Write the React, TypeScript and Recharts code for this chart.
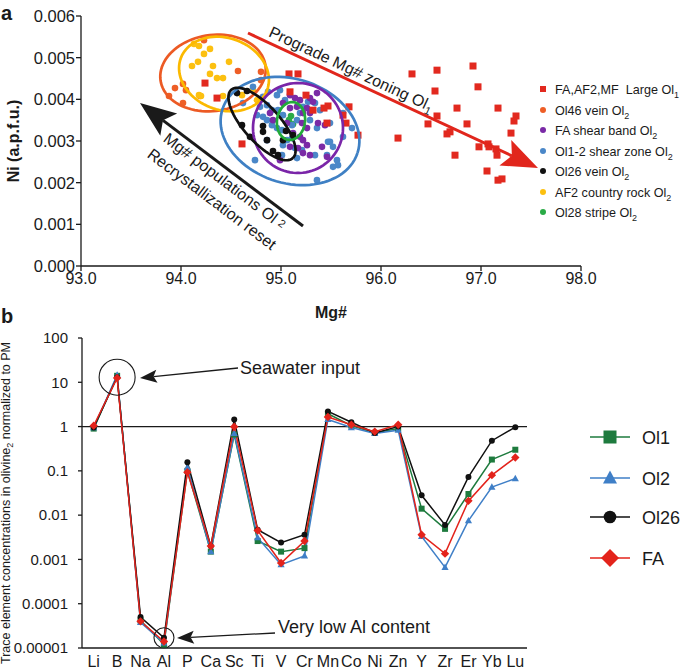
import React from 'react';
import {
    ScatterChart,
    Scatter,
    LineChart,
    Line,
    XAxis,
    YAxis,
    ReferenceLine,
    ReferenceDot,
    Label,
} from 'recharts';

const FONT = '"Liberation Sans", Arial, Helvetica, sans-serif';
const INK = '#1a1a1a';

// ---------- panel a : Ni vs Mg# ----------
const mgTicks = [93, 94, 95, 96, 97, 98];
const niTicks = [0, 0.001, 0.002, 0.003, 0.004, 0.005, 0.006];

const largeOl1 = [
    [94.24, 0.00439], [94.36, 0.00403], [94.61, 0.00293], [95.08, 0.00461], [95.17, 0.00461],
    [95.09, 0.00418], [95.25, 0.0041], [95.47, 0.00384], [95.43, 0.00379], [95.32, 0.00374],
    [95.68, 0.00382], [95.62, 0.00362], [95.46, 0.00343], [95.65, 0.00343], [95.77, 0.00314],
    [96.31, 0.00461], [96.56, 0.0047], [96.92, 0.0048], [96.54, 0.0042], [96.97, 0.0043],
    [96.76, 0.00379], [97.17, 0.00379], [96.56, 0.0036], [96.47, 0.00341], [96.86, 0.00341],
    [97.35, 0.0036], [97.33, 0.00348], [96.17, 0.00307], [96.66, 0.00317], [96.69, 0.00322],
    [97.3, 0.00319], [96.98, 0.00286], [97.07, 0.00293], [97.08, 0.00286], [97.15, 0.00281],
    [97.16, 0.00266], [96.74, 0.00266], [97.06, 0.00228], [97.17, 0.00206], [97.21, 0.00209],
];
const ol46Vein = [
    [93.88, 0.00408], [93.94, 0.00427], [94.02, 0.00437], [94.02, 0.00391], [94.05, 0.00422],
    [94.19, 0.00408], [94.57, 0.00468], [94.8, 0.00466], [94.23, 0.00542], [94.8, 0.00446],
];
const faShearBand = [
    [95.09, 0.0041], [95.14, 0.00403], [95.19, 0.00398], [95.29, 0.00403], [95.32, 0.00394],
    [95.09, 0.00379], [95.16, 0.00382], [95.22, 0.00367], [95.26, 0.00379], [95.29, 0.00367],
    [95.21, 0.00343], [95.26, 0.00331], [95.12, 0.00319], [95.19, 0.0031], [95.22, 0.00302],
    [95.26, 0.0029], [95.17, 0.00283], [95.22, 0.00271], [95.29, 0.00266], [95.37, 0.00343],
    [95.44, 0.00338], [95.41, 0.00286], [95.46, 0.00262], [94.99, 0.00254], [94.89, 0.00367],
    [94.92, 0.0035], [95.02, 0.00391], [95.36, 0.00415], [95.06, 0.00343], [95.09, 0.00286],
];
const ol12ShearZone = [
    [94.72, 0.0043], [94.87, 0.00418], [94.96, 0.0041], [95.04, 0.00398], [94.79, 0.00382],
    [94.86, 0.00386], [94.91, 0.00374], [94.97, 0.00374], [95.02, 0.00362], [94.76, 0.00362],
    [94.86, 0.0035], [94.91, 0.00338], [94.96, 0.00331], [95.01, 0.00326], [95.11, 0.00338],
    [95.16, 0.0035], [95.19, 0.00367], [95.22, 0.00382], [95.27, 0.00394], [95.34, 0.00391],
    [95.36, 0.00331], [95.49, 0.00343], [95.47, 0.00298], [95.52, 0.00286], [95.52, 0.00238],
    [95.34, 0.00266], [95.21, 0.00278], [95.14, 0.00283], [95.02, 0.0029], [94.86, 0.00302],
    [94.74, 0.00254], [95.06, 0.00302], [95.11, 0.00307], [94.82, 0.00358], [94.99, 0.00422],
    [94.82, 0.00406], [94.62, 0.00391], [95.62, 0.00367], [95.71, 0.00331], [95.62, 0.0031],
    [95.46, 0.00266], [95.01, 0.00266], [95.29, 0.0035], [95.39, 0.00374], [95.36, 0.00206],
    [95.56, 0.00254], [95.57, 0.00242], [95.49, 0.00298], [95.16, 0.00259],
];
const ol26Vein = [
    [94.56, 0.00415], [94.66, 0.0042], [94.61, 0.00338], [94.69, 0.0031], [94.82, 0.00336],
    [94.82, 0.00322], [94.86, 0.00302], [94.92, 0.00276], [94.97, 0.00266], [95.05, 0.00324],
    [95.12, 0.00314], [95.02, 0.00302],
];
const af2CountryRock = [
    [94.13, 0.00533], [94.18, 0.00528], [94.29, 0.00521], [94.23, 0.00509], [94.11, 0.0048],
    [94.17, 0.0049], [94.32, 0.0048], [94.48, 0.0049], [94.29, 0.00461], [94.36, 0.00451],
    [94.42, 0.00451], [94.18, 0.0041], [94.2, 0.00408], [94.42, 0.00408], [94.61, 0.0041],
    [94.72, 0.00422], [94.76, 0.00398],
];
const ol28Stripe = [[95.08, 0.0035], [95.12, 0.0034], [95.1, 0.0036]];

const groupNames = [
    'FA,AF2,MF\u00a0\u00a0Large Ol', 'Ol46 vein Ol', 'FA shear band Ol', 'Ol1-2 shear zone Ol',
    'Ol26 vein Ol', 'AF2 country rock Ol', 'Ol28 stripe Ol',
];
const groupSubs = ['1', '2', '2', '2', '2', '2', '2'];
const groupColors = ['#e2291f', '#ee5e26', '#7a2aa6', '#4a87c8', '#111111', '#fcc010', '#2aab46'];

// fitted ellipses: centre, semi-axes (Mg# units), tilt in degrees
const ellipseMg = [94.32, 94.43, 95.09, 95.17, 94.81, 95.1];
const ellipseNi = [0.004632, 0.004608, 0.00324, 0.003312, 0.003408, 0.00348];
const ellipseA = [0.53, 0.46, 0.71, 0.45, 0.46, 0.14];
const ellipseB = [0.38, 0.36, 0.52, 0.45, 0.18, 0.19];
const ellipseTilt = [-8, 20, 18, 0, 48, 8];
const ellipseColors = ['#ec5a24', '#fbb900', '#3f80c4', '#7a25a8', '#111111', '#22aa3a'];

// ---------- panel b : trace elements ----------
const elements = ['Li', 'B', 'Na', 'Al', 'P', 'Ca', 'Sc', 'Ti', 'V', 'Cr', 'Mn', 'Co', 'Ni', 'Zn', 'Y', 'Zr', 'Er', 'Yb', 'Lu'];
const ol1 = [0.9, 14, 4.2e-5, 1.2e-5, 0.1, 0.0015, 0.66, 0.0026, 0.0015, 0.0018, 1.95, 1.05, 0.72, 0.9, 0.014, 0.0049, 0.03, 0.18, 0.3];
const ol2 = [0.95, 14.5, 3.8e-5, 1.3e-5, 0.12, 0.0015, 0.7, 0.0031, 0.00076, 0.0012, 1.45, 0.95, 0.7, 0.83, 0.0033, 0.00066, 0.0075, 0.043, 0.067];
const ol26 = [0.95, 13, 5e-5, 1.7e-5, 0.157, 0.002, 1.44, 0.0047, 0.0024, 0.0036, 2.2, 1.25, 0.72, 1.0, 0.028, 0.006, 0.073, 0.48, 0.97];
const fa = [1.05, 12.5, 4e-5, 1.4e-5, 0.093, 0.002, 0.99, 0.0045, 0.00083, 0.0026, 1.65, 1.1, 0.77, 1.1, 0.0036, 0.00135, 0.021, 0.08, 0.2];
const traceTicks = [0.00001, 0.0001, 0.001, 0.01, 0.1, 1, 10, 100];
const traceTickLabels = ['0.00001', '0.0001', '0.001', '0.01', '0.1', '1', '10', '100'];
const seriesNames = ['Ol1', 'Ol2', 'Ol26', 'FA'];
const seriesColors = ['#1e7b3e', '#3f7fc7', '#111111', '#e3231b'];

const traceRows = elements.map((el, i) => ({ el, ol1: ol1[i], ol2: ol2[i], ol26: ol26[i], fa: fa[i] }));

const toPoints = (arr) => arr.map(([x, y]) => ({ x, y }));

// plot box of panel a: 500px for 5 Mg#, 250px for 0.006 Ni
const NI_PER_MG = (0.006 / 250) / (5 / 500);

const ellipsePoints = (i) => {
    const tilt = (ellipseTilt[i] * Math.PI) / 180;
    const pts = [];
    for (let k = 0; k <= 90; k++) {
        const t = (k / 90) * Math.PI * 2;
        const ex = ellipseA[i] * Math.cos(t);
        const ey = ellipseB[i] * Math.sin(t);
        const rx = ex * Math.cos(tilt) - ey * Math.sin(tilt);
        const ry = ex * Math.sin(tilt) + ey * Math.cos(tilt);
        pts.push({ x: ellipseMg[i] + rx, y: ellipseNi[i] - ry * NI_PER_MG });
    }
    return pts;
};

const circleShape = (color) => (p) => <circle cx={p.cx} cy={p.cy} r={3.3} fill={color} />;
const squareShape = (color) => (p) => <rect x={p.cx - 3.5} y={p.cy - 3.5} width={7} height={7} fill={color} />;
const noShape = () => <g />;

const seriesDot = (kind, color) => (p) => {
    const { cx, cy, index } = p;
    if (cx == null || cy == null) return <g key={index} />;
    if (kind === 'square') return <rect key={index} x={cx - 3} y={cy - 3} width={6} height={6} fill={color} />;
    if (kind === 'triangle')
        return <polygon key={index} points={`${cx},${cy - 3.8} ${cx + 3.6},${cy + 2.6} ${cx - 3.6},${cy + 2.6}`} fill={color} />;
    if (kind === 'diamond')
        return <polygon key={index} points={`${cx},${cy - 4.2} ${cx + 4.2},${cy} ${cx},${cy + 4.2} ${cx - 4.2},${cy}`} fill={color} />;
    return <circle key={index} cx={cx} cy={cy} r={3} fill={color} />;
};
const seriesKinds = ['square', 'triangle', 'circle', 'diamond'];
const seriesKeys = ['ol1', 'ol2', 'ol26', 'fa'];

const Arrow = ({ x1, y1, x2, y2, head, half, color, width }) => {
    const len = Math.hypot(x2 - x1, y2 - y1);
    const ux = (x2 - x1) / len;
    const uy = (y2 - y1) / len;
    const nx = -uy;
    const ny = ux;
    const bx = x2 - ux * head;
    const by = y2 - uy * head;
    const mx = x2 - ux * head * 0.8;
    const my = y2 - uy * head * 0.8;
    return (
        <g>
            <line x1={x1} y1={y1} x2={mx} y2={my} stroke={color} strokeWidth={width} />
            <polygon
                points={`${x2},${y2} ${bx + nx * half},${by + ny * half} ${mx},${my} ${bx - nx * half},${by - ny * half}`}
                fill={color}
            />
        </g>
    );
};

const LegendMarker = ({ kind, x, y, color }) => {
    if (kind === 'square') return <rect x={x - 6.5} y={y - 6.5} width={13} height={13} fill={color} />;
    if (kind === 'triangle')
        return <polygon points={`${x},${y - 7.5} ${x + 7},${y + 5.5} ${x - 7},${y + 5.5}`} fill={color} />;
    if (kind === 'diamond')
        return <polygon points={`${x},${y - 9} ${x + 9},${y} ${x},${y + 9} ${x - 9},${y}`} fill={color} />;
    return <circle cx={x} cy={y} r={6.3} fill={color} />;
};

const Overlay = () => {
    const legendARows = [89, 110, 130, 151, 171, 192, 212];
    const legendBRows = [437, 478, 517, 558];
    return (
        <svg
            width={685}
            height={669}
            style={{ position: 'absolute', left: 0, top: 0, pointerEvents: 'none', fontFamily: FONT }}
        >
            <text x={1} y={20} fontSize={20} fontWeight="bold" fill={INK}>a</text>
            <text x={1} y={323} fontSize={20} fontWeight="bold" fill={INK}>b</text>

            {/* panel a annotations */}
            <Arrow x1={248} y1={33} x2={538} y2={168} head={36} half={14} color="#e1261c" width={3} />
            <text transform="translate(349,74) rotate(25)" textAnchor="middle" fontSize={16} fill={INK}>
                Prograde Mg# zoning Ol<tspan dy={4} fontSize={11}>1</tspan>
            </text>
            <Arrow x1={303} y1={226} x2={140} y2={103} head={36} half={14} color={INK} width={3} />
            <text transform="translate(225,181) rotate(37)" textAnchor="middle" dy="0.35em" fontSize={16} fill={INK}>
                Mg# populations Ol <tspan fontSize={11} dy={-2}>2</tspan>
            </text>
            <text transform="translate(212,199) rotate(37)" textAnchor="middle" dy="0.35em" fontSize={16} fill={INK}>
                Recrystallization reset
            </text>

            {/* legend a */}
            {groupNames.map((name, i) => (
                <g key={name}>
                    {i === 0 ? (
                        <rect x={540} y={legendARows[i] - 3} width={6} height={6} fill={groupColors[i]} />
                    ) : (
                        <circle cx={543} cy={legendARows[i]} r={3} fill={groupColors[i]} />
                    )}
                    <text x={555} y={legendARows[i] + 5} fontSize={12.6} fill={INK}>
                        {name}
                        <tspan dy={4} fontSize={9}>{groupSubs[i]}</tspan>
                    </text>
                </g>
            ))}

            {/* panel b annotations */}
            <Arrow x1={238} y1={368} x2={140} y2={378} head={17} half={6.5} color={INK} width={1.3} />
            <text x={240} y={374} fontSize={18} fill={INK}>Seawater input</text>
            <Arrow x1={275} y1={633} x2={177} y2={638} head={17} half={6.5} color={INK} width={1.3} />
            <text x={278} y={633} fontSize={18} fill={INK}>Very low Al content</text>

            <text transform="translate(10,503) rotate(-90)" textAnchor="middle" fontSize={12.5} fill={INK}>
                Trace element concentrations in olivine<tspan dy={3} fontSize={9}>2</tspan>
                <tspan dy={-3}> normalized to PM</tspan>
            </text>

            {/* legend b */}
            {seriesNames.map((name, i) => (
                <g key={name}>
                    <line x1={590} x2={630} y1={legendBRows[i]} y2={legendBRows[i]} stroke={seriesColors[i]} strokeWidth={1.5} />
                    <LegendMarker kind={seriesKinds[i]} x={610} y={legendBRows[i]} color={seriesColors[i]} />
                    <text x={642} y={legendBRows[i] + 6.5} fontSize={18} fill={INK}>{name}</text>
                </g>
            ))}
        </svg>
    );
};

const axisStyle = { stroke: INK, strokeWidth: 1.3 };

const PanelA = () => {
    const groups = [largeOl1, ol46Vein, faShearBand, ol12ShearZone, ol26Vein, af2CountryRock, ol28Stripe];
    const drawOrder = [6, 1, 5, 3, 2, 4, 0];
    return (
        <ScatterChart width={685} height={330} margin={{ top: 16, right: 104, bottom: 0, left: 0 }}>
            <XAxis
                type="number"
                dataKey="x"
                domain={[93, 98]}
                ticks={mgTicks}
                allowDataOverflow
                tickFormatter={(v) => v.toFixed(1)}
                axisLine={axisStyle}
                tickLine={axisStyle}
                tickSize={5}
                tick={{ fill: INK, fontSize: 16, fontFamily: FONT }}
                height={64}
            >
                <Label
                    value="Mg#"
                    position="insideTop"
                    offset={41}
                    style={{ fontWeight: 'bold', fontSize: 16, fill: INK, fontFamily: FONT }}
                />
            </XAxis>
            <YAxis
                type="number"
                dataKey="y"
                domain={[0, 0.006]}
                ticks={niTicks}
                allowDataOverflow
                tickFormatter={(v) => v.toFixed(3)}
                axisLine={axisStyle}
                tickLine={axisStyle}
                tickSize={5}
                tickMargin={1}
                tick={{ fill: INK, fontSize: 16.5, fontFamily: FONT }}
                width={81}
            >
                <Label
                    value="Ni (a.p.f.u.)"
                    angle={-90}
                    position="insideLeft"
                    offset={13}
                    style={{ textAnchor: 'middle', fontWeight: 'bold', fontSize: 16, fill: INK, fontFamily: FONT }}
                />
            </YAxis>
            {drawOrder.map((g) => (
                <Scatter
                    key={groupNames[g]}
                    name={groupNames[g]}
                    data={toPoints(groups[g])}
                    shape={g === 0 ? squareShape(groupColors[g]) : circleShape(groupColors[g])}
                    isAnimationActive={false}
                />
            ))}
            {ellipseMg.map((_, i) => (
                <Scatter
                    key={`ellipse-${i}`}
                    data={ellipsePoints(i)}
                    line={{ stroke: ellipseColors[i], strokeWidth: 2.7 }}
                    lineJointType="linear"
                    shape={noShape}
                    legendType="none"
                    isAnimationActive={false}
                />
            ))}
        </ScatterChart>
    );
};

const PanelB = () => (
    <LineChart width={685} height={369} data={traceRows} margin={{ top: 38, right: 158, bottom: 0, left: 0 }}>
        <XAxis
            dataKey="el"
            type="category"
            interval={0}
            padding={{ left: 11.7, right: 11.7 }}
            axisLine={axisStyle}
            tickLine={false}
            tick={{ fill: INK, fontSize: 16, fontFamily: FONT }}
            height={21}
        />
        <YAxis
            type="number"
            scale="log"
            domain={[0.00001, 100]}
            ticks={traceTicks}
            allowDataOverflow
            tickFormatter={(v) => traceTickLabels[traceTicks.indexOf(v)]}
            axisLine={axisStyle}
            tickLine={axisStyle}
            tickSize={4}
            tickMargin={10}
            tick={{ fill: INK, fontSize: 15, fontFamily: FONT }}
            width={82}
        />
        <ReferenceLine y={1} stroke={INK} strokeWidth={1.2} />
        <ReferenceDot x="B" y={13} r={18} fill="none" stroke={INK} strokeWidth={1.1} />
        <ReferenceDot x="Al" y={0.000017} r={10} fill="none" stroke={INK} strokeWidth={1.1} />
        {seriesKeys.map((key, i) => (
            <Line
                key={key}
                dataKey={key}
                name={seriesNames[i]}
                type="linear"
                stroke={seriesColors[i]}
                strokeWidth={1.5}
                dot={seriesDot(seriesKinds[i], seriesColors[i])}
                activeDot={false}
                isAnimationActive={false}
            />
        ))}
    </LineChart>
);

export default function App() {
    return (
        <div style={{ position: 'absolute', left: 0, top: 0, width: 685, height: 669, background: '#fff', fontFamily: FONT }}>
            <div style={{ position: 'absolute', left: 0, top: 0 }}>
                <PanelA />
            </div>
            <div style={{ position: 'absolute', left: 0, top: 300 }}>
                <PanelB />
            </div>
            <Overlay />
        </div>
    );
}
